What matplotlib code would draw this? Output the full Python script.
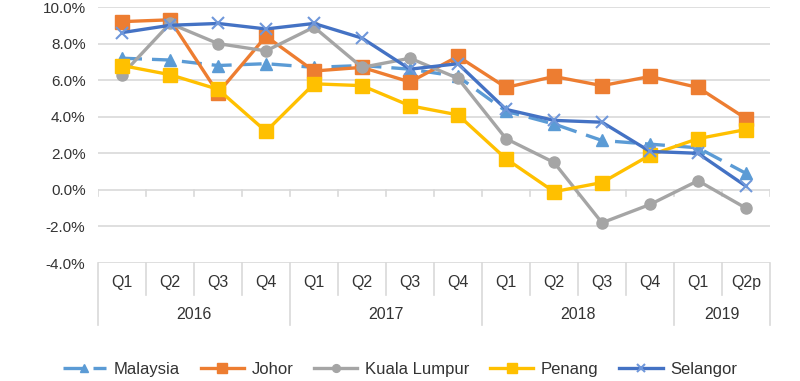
import numpy as np
import matplotlib
matplotlib.use("Agg")
import matplotlib.pyplot as plt
import matplotlib.transforms as mtransforms

plt.rcParams['font.family'] = ['Liberation Sans', 'DejaVu Sans']

# Data
quarters = ["Q1", "Q2", "Q3", "Q4", "Q1", "Q2", "Q3", "Q4",
            "Q1", "Q2", "Q3", "Q4", "Q1", "Q2p"]
years = ["2016", "2017", "2018", "2019"]
year_counts = [4, 4, 4, 2]

malaysia = [7.2, 7.1, 6.8, 6.9, 6.7, 6.8, 6.6, 6.2, 4.3, 3.6, 2.7, 2.5, 2.3, 0.9]
johor = [9.2, 9.3, 5.3, 8.4, 6.5, 6.7, 5.9, 7.3, 5.6, 6.2, 5.7, 6.2, 5.6, 3.9]
kuala_lumpur = [6.3, 9.1, 8.0, 7.6, 8.9, 6.7, 7.2, 6.1, 2.8, 1.5, -1.8, -0.8, 0.5, -1.0]
penang = [6.8, 6.3, 5.5, 3.2, 5.8, 5.7, 4.6, 4.1, 1.7, -0.1, 0.4, 1.9, 2.8, 3.3]
selangor = [8.6, 9.0, 9.1, 8.8, 9.1, 8.3, 6.6, 6.9, 4.4, 3.8, 3.7, 2.1, 2.0, 0.2]

text_color = "#333333"
grid_color = "#D9D9D9"

fig = plt.figure(figsize=(8, 3.81), dpi=100)
ax = fig.add_axes([0.1225, 0.3097, 0.84, 0.6719])

x = np.arange(len(quarters))
lw = 2.4

ax.plot(x, malaysia, color="#5B9BD5", lw=lw, dashes=(6, 3), marker="^",
        markersize=8.5, label="Malaysia", zorder=3)
ax.plot(x, johor, color="#ED7D31", lw=lw, marker="s", markersize=9.5,
        label="Johor", zorder=4)
ax.plot(x, kuala_lumpur, color="#A5A5A5", lw=lw, marker="o", markersize=8,
        label="Kuala Lumpur", zorder=5)
ax.plot(x, penang, color="#FFC000", lw=lw, marker="s", markersize=9.5,
        label="Penang", zorder=6)
ax.plot(x, selangor, color="#4472C4", lw=lw, marker="x", markersize=8,
        markeredgecolor="#6F97DA", markeredgewidth=1.5,
        label="Selangor", zorder=7)

ax.set_xlim(-0.5, len(quarters) - 0.5)
ax.set_ylim(-4, 10)
ax.set_yticks(np.arange(-4, 11, 2))
ax.set_yticklabels([f"{v:.1f}%" for v in np.arange(-4, 11, 2)],
                   fontsize=11, color=text_color)
ax.tick_params(axis="y", length=0, pad=9)
ax.set_xticks([])
ax.yaxis.grid(True, color=grid_color, lw=1.2)
ax.set_axisbelow(True)
for s in ax.spines.values():
    s.set_visible(False)

# tick marks on the 0% axis line
for b in np.arange(-0.5, len(quarters), 1):
    ax.plot([b, b], [0, -0.33], color=grid_color, lw=1.2, zorder=1)

# category table below plot
trans = mtransforms.blended_transform_factory(ax.transData, ax.transAxes)
year_edges = np.cumsum([0] + year_counts) - 0.5
for b in np.arange(-0.5, len(quarters), 1):
    bottom = -0.242 if b in year_edges else -0.125
    ax.plot([b, b], [0, bottom], color=grid_color, lw=1.2, transform=trans,
            clip_on=False)
for i, q in enumerate(quarters):
    ax.text(i, -0.078, q, transform=trans, ha="center", va="center",
            fontsize=11.5, color=text_color)
for k, yr in enumerate(years):
    c = (year_edges[k] + year_edges[k + 1]) / 2
    ax.text(c, -0.203, yr, transform=trans, ha="center", va="center",
            fontsize=11.5, color=text_color)

leg = fig.legend(loc="center", bbox_to_anchor=(0.5, 0.03), ncol=5,
                 frameon=False, fontsize=12, handlelength=2.6,
                 handletextpad=0.45, columnspacing=1.25, markerscale=0.7)
for t in leg.get_texts():
    t.set_color(text_color)

fig.savefig("out.png", dpi=100)
